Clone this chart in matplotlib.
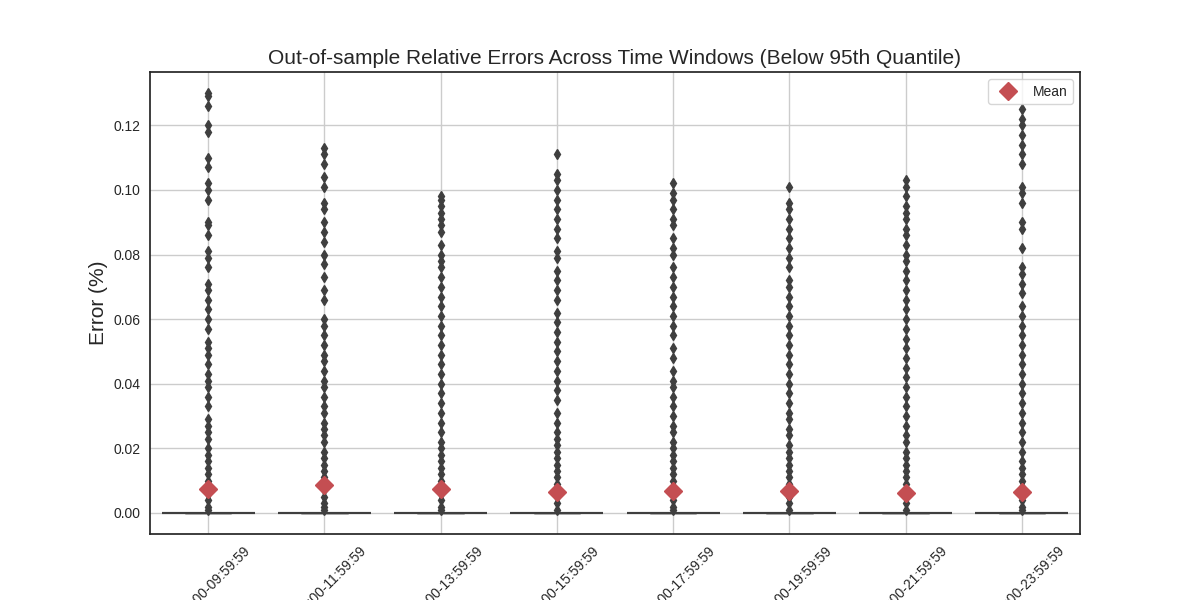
import numpy as np
import matplotlib.pyplot as plt
import seaborn as sns

windows = ["08:00:00-09:59:59", "10:00:00-11:59:59", "12:00:00-13:59:59", "14:00:00-15:59:59",
           "16:00:00-17:59:59", "18:00:00-19:59:59", "20:00:00-21:59:59", "22:00:00-23:59:59"]

# values above zero (outliers) per window
errs_0 = [0.130, 0.129, 0.126, 0.120, 0.118, 0.110, 0.107, 0.102, 0.100, 0.097, 0.090, 0.089, 0.086,
          0.081, 0.079, 0.076, 0.071, 0.069, 0.066, 0.063, 0.060, 0.057, 0.053, 0.051, 0.049, 0.046,
          0.043, 0.041, 0.039, 0.036, 0.033, 0.029, 0.027, 0.025, 0.023, 0.020, 0.018, 0.016, 0.014,
          0.012, 0.010, 0.008, 0.006, 0.004, 0.002, 0.001]
errs_1 = [0.113, 0.111, 0.108, 0.104, 0.101, 0.096, 0.094, 0.090, 0.087, 0.084, 0.080, 0.077, 0.073,
          0.069, 0.066, 0.060, 0.058, 0.055, 0.052, 0.049, 0.047, 0.044, 0.041, 0.039, 0.036, 0.033,
          0.031, 0.028, 0.026, 0.024, 0.022, 0.019, 0.017, 0.015, 0.013, 0.011, 0.009, 0.007, 0.005,
          0.003, 0.002, 0.001]
errs_2 = [0.098, 0.097, 0.095, 0.093, 0.091, 0.089, 0.087, 0.083, 0.080, 0.078, 0.076, 0.073, 0.070,
          0.067, 0.064, 0.061, 0.058, 0.055, 0.052, 0.049, 0.046, 0.043, 0.040, 0.037, 0.034, 0.031,
          0.028, 0.025, 0.022, 0.020, 0.018, 0.016, 0.014, 0.012, 0.010, 0.008, 0.006, 0.004, 0.002, 0.001]
errs_3 = [0.111, 0.105, 0.103, 0.100, 0.097, 0.094, 0.091, 0.088, 0.085, 0.081, 0.079, 0.075, 0.072,
          0.069, 0.066, 0.062, 0.059, 0.056, 0.053, 0.050, 0.047, 0.044, 0.041, 0.038, 0.035, 0.031,
          0.028, 0.025, 0.023, 0.021, 0.019, 0.017, 0.015, 0.013, 0.011, 0.009, 0.007, 0.005, 0.003, 0.001]
errs_4 = [0.102, 0.099, 0.097, 0.094, 0.091, 0.089, 0.085, 0.082, 0.080, 0.076, 0.073, 0.070, 0.067,
          0.064, 0.061, 0.058, 0.055, 0.051, 0.048, 0.044, 0.041, 0.039, 0.036, 0.033, 0.030, 0.027,
          0.025, 0.022, 0.020, 0.018, 0.016, 0.014, 0.012, 0.010, 0.008, 0.006, 0.004, 0.002, 0.001]
errs_5 = [0.101, 0.096, 0.094, 0.091, 0.088, 0.085, 0.082, 0.079, 0.076, 0.072, 0.070, 0.067, 0.064,
          0.061, 0.058, 0.055, 0.052, 0.049, 0.046, 0.043, 0.040, 0.037, 0.034, 0.031, 0.029, 0.026,
          0.024, 0.021, 0.019, 0.017, 0.015, 0.013, 0.011, 0.009, 0.007, 0.005, 0.003, 0.001]
errs_6 = [0.103, 0.101, 0.098, 0.095, 0.093, 0.091, 0.088, 0.086, 0.083, 0.080, 0.078, 0.075, 0.072,
          0.069, 0.066, 0.063, 0.060, 0.057, 0.054, 0.051, 0.048, 0.045, 0.042, 0.039, 0.036, 0.033,
          0.030, 0.027, 0.024, 0.022, 0.019, 0.017, 0.015, 0.013, 0.011, 0.009, 0.007, 0.005, 0.003, 0.001]
errs_7 = [0.125, 0.122, 0.120, 0.117, 0.114, 0.111, 0.108, 0.101, 0.099, 0.096, 0.090, 0.088, 0.082,
          0.076, 0.074, 0.071, 0.068, 0.064, 0.061, 0.058, 0.055, 0.052, 0.049, 0.046, 0.043, 0.040,
          0.037, 0.034, 0.031, 0.028, 0.025, 0.022, 0.019, 0.016, 0.014, 0.012, 0.010, 0.008, 0.006,
          0.004, 0.002, 0.001]
n_zero = 600
means = [0.0073, 0.0087, 0.0073, 0.0065, 0.0069, 0.0069, 0.0062, 0.0066]

sns.set_style("white")
plt.rcParams['font.family'] = ['Arial', 'Liberation Sans', 'DejaVu Sans']

groups = [errs_0, errs_1, errs_2, errs_3, errs_4, errs_5, errs_6, errs_7]
data = [np.array(g + [0.0] * n_zero) for g in groups]

fig, ax = plt.subplots(figsize=(12, 6), dpi=100)
ax.grid(True, color="#cccccc", linewidth=1)
ax.set_axisbelow(True)
dark = "#3f3f3f"
ax.boxplot(data, positions=range(len(windows)), widths=0.8, patch_artist=True,
           boxprops=dict(facecolor="#4c72b0", edgecolor=dark, linewidth=1.5),
           medianprops=dict(color=dark, linewidth=1.5),
           whiskerprops=dict(color=dark), capprops=dict(color=dark),
           flierprops=dict(marker="d", markerfacecolor=dark, markeredgecolor=dark, markersize=5))
ax.plot(range(len(windows)), means, linestyle="none", marker="D", color="#c44e52",
        markersize=9, label="Mean", zorder=5)

ax.set_xticks(range(len(windows)))
ax.set_xticklabels(windows, rotation=45)
ax.set_xlim(-0.5, 7.5)
ax.set_ylabel("Error (%)", fontsize=15)
ax.set_title("Out-of-sample Relative Errors Across Time Windows (Below 95th Quantile)", fontsize=15)
for s in ax.spines.values():
    s.set_color("#262626")
    s.set_linewidth(1.25)
ax.legend(loc="upper right", frameon=True)
fig.savefig("out.png")
